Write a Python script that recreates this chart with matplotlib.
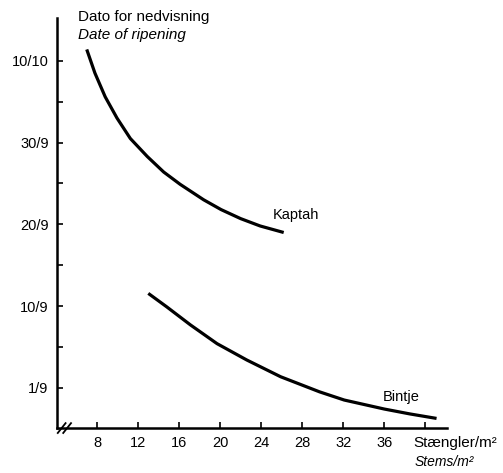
import matplotlib.pyplot as plt

plt.rcParams['font.family'] = ['Liberation Sans', 'DejaVu Sans']

# stems per m2 vs date of ripening (y in 10-day steps: 0 = 1/9, 40 = 10/10)
kaptah_x = [7.0, 7.8, 8.8, 9.95, 11.25, 12.9, 14.5, 16.1, 18.4, 20.1, 22.0, 23.9, 26.2]
kaptah_y = [41.4, 38.5, 35.6, 33.0, 30.5, 28.3, 26.4, 24.9, 23.0, 21.8, 20.7, 19.8, 19.0]
bintje_x = [13.0, 14.8, 17.1, 19.7, 22.6, 25.9, 29.7, 32.1, 36.0, 38.5, 41.1]
bintje_y = [11.55, 9.9, 7.7, 5.4, 3.4, 1.35, -0.5, -1.5, -2.6, -3.2, -3.75]

x_ticks = [8, 12, 16, 20, 24, 28, 32, 36, 40]
x_labels = ['8', '12', '16', '20', '24', '28', '32', '36', '']
y_ticks = [0, 10, 20, 30, 40]
y_labels = ['1/9', '10/9', '20/9', '30/9', '10/10']

fig = plt.figure(figsize=(5.03, 4.73), dpi=100)
ax = fig.add_axes([0.1133, 0.095, 0.775, 0.867])

ax.plot(kaptah_x, kaptah_y, color='black', lw=2.3, solid_capstyle='butt',
        solid_joinstyle='round')
ax.plot(bintje_x, bintje_y, color='black', lw=2.3, solid_capstyle='butt',
        solid_joinstyle='round')

ax.set_xlim(4.1, 42.1)
ax.set_ylim(-4.93, 45.25)
for s in ['top', 'right']:
    ax.spines[s].set_visible(False)
for s in ['left', 'bottom']:
    ax.spines[s].set_linewidth(1.8)

ax.set_xticks(x_ticks)
ax.set_xticklabels(x_labels)
ax.set_yticks(y_ticks)
ax.set_yticklabels(y_labels)
ax.set_yticks([5, 15, 25, 35], minor=True)
ax.tick_params(direction='in', length=4, width=1.2, labelsize=10.5, pad=6)
ax.tick_params(axis='y', which='minor', direction='in', length=4, width=1.2)

# axis break on x axis
for dx in [0.012, 0.026]:
    ax.plot([dx - 0.01, dx + 0.01], [-0.012, 0.012], transform=ax.transAxes,
            color='black', lw=1.3, clip_on=False)

ax.text(25.1, 21.1, 'Kaptah', fontsize=10.5, ha='left', va='center')
ax.text(35.9, -1.1, 'Bintje', fontsize=10.5, ha='left', va='center')

fig.text(78 / 503, 1 - 17 / 473, 'Dato for nedvisning', fontsize=11, va='center')
fig.text(78 / 503, 1 - 35 / 473, 'Date of ripening', fontsize=11,
         style='italic', va='center')
fig.text(497 / 503, 1 - 443 / 473, 'Stængler/m²', fontsize=11,
         ha='right', va='center')
fig.text(474 / 503, 1 - 462 / 473, 'Stems/m²', fontsize=10,
         ha='right', va='center', style='italic')

fig.savefig('out.png', dpi=100)
